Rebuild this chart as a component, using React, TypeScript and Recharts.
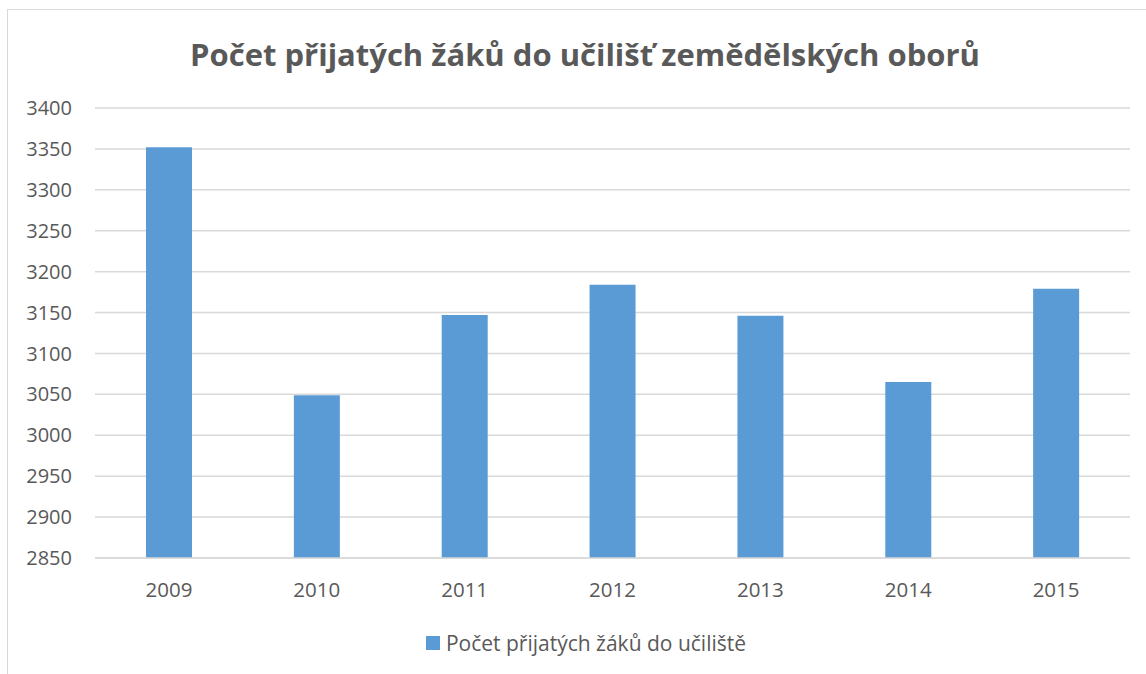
import { BarChart, Bar, XAxis, YAxis, CartesianGrid } from 'recharts';

const years = ['2009', '2010', '2011', '2012', '2013', '2014', '2015'];
const admitted = [3352, 3049, 3147, 3184, 3146, 3065, 3179];
const yTicks = [2850, 2900, 2950, 3000, 3050, 3100, 3150, 3200, 3250, 3300, 3350, 3400];

const seriesName = 'Počet přijatých žáků do učiliště';
const title = 'Počet přijatých žáků do učilišť zemědělských oborů';

const data = years.map((y, i) => ({ year: y, value: admitted[i] }));

const font = '"Open Sans", sans-serif';
const grey = '#595959';
const blue = '#5B9BD5';

export default function App() {
  return (
    <div style={{ position: 'absolute', left: 0, top: 0, width: 1146, height: 674, overflow: 'hidden', background: '#fff' }}>
      <div style={{ position: 'absolute', left: 7, top: 9, width: 1160, height: 700, border: '1px solid #d9d9d9' }} />
      <div
        style={{
          position: 'absolute', left: 185, width: 800, top: 33, whiteSpace: 'nowrap',
          display: 'flex', justifyContent: 'center',
          fontFamily: font, fontWeight: 700, fontSize: 31, color: grey,
        }}
      >
        {title}
      </div>
      <div style={{ position: 'absolute', left: 0, top: 0 }}>
        <BarChart width={1146} height={674} data={data} margin={{ top: 108, right: 16, left: 35, bottom: 76 }}>
          <CartesianGrid vertical={false} stroke="#d9d9d9" strokeWidth={1.5} />
          <XAxis
            dataKey="year"
            axisLine={{ stroke: '#d9d9d9', strokeWidth: 1.5 }}
            tickLine={false}
            tickMargin={18}
            height={40}
            tick={{ fill: grey, fontSize: 20.5, fontFamily: font }}
          />
          <YAxis
            domain={[2850, 3400]}
            ticks={yTicks}
            axisLine={false}
            tickLine={false}
            tickMargin={17}
            width={60}
            interval={0}
            tick={{ fill: grey, fontSize: 20, fontFamily: font }}
          />
          <Bar dataKey="value" name={seriesName} fill={blue} barSize={46} isAnimationActive={false} />
        </BarChart>
      </div>
      <div
        style={{
          position: 'absolute', left: 286, width: 600, top: 629, display: 'flex', alignItems: 'center',
          justifyContent: 'center', fontFamily: font, fontSize: 21, color: grey, whiteSpace: 'nowrap',
        }}
      >
        <span style={{ display: 'inline-block', width: 14, height: 14, background: blue, marginRight: 6 }} />
        <span>{seriesName}</span>
      </div>
    </div>
  );
}
